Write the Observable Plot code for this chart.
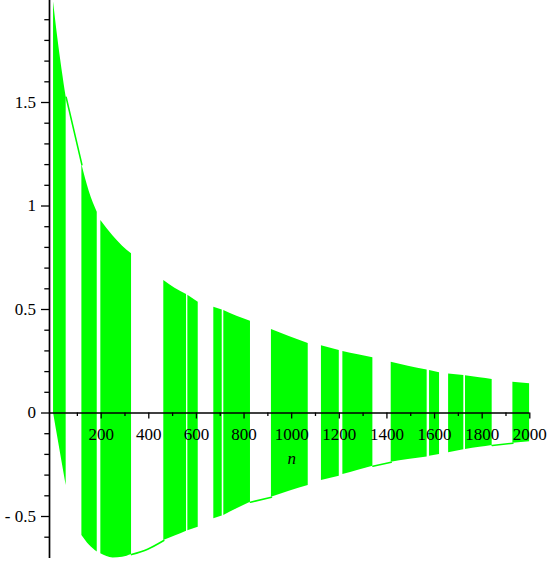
<!DOCTYPE html>
<html>
<head>
<meta charset="utf-8">
<script src="https://cdn.jsdelivr.net/npm/d3@7"></script>
<script src="https://cdn.jsdelivr.net/npm/@observablehq/plot@0.6"></script>
<style>
  html, body { margin: 0; padding: 0; background: #ffffff; }
  #chart { position: absolute; left: 0; top: 0; }
  #chart svg text { font-family: "Liberation Serif", "DejaVu Serif", serif !important; }
</style>
</head>
<body>
<div id="chart"></div>
<script>
// Envelope samples (n, upper value, lower value)
const envN     = [0, 18, 53, 119, 150, 183.5, 198.6, 250, 290, 327.5, 395, 463, 510, 558.5, 564, 607.6, 673, 708.4, 715, 770, 827, 915, 990, 1069.5, 1125, 1200, 1215, 1280, 1341, 1418, 1490, 1569, 1579, 1621, 1659, 1723, 1730, 1790, 1842, 1929, 2000];
const envUpper = [1.985, 1.81, 1.525, 1.20, 1.07, 0.97, 0.93, 0.855, 0.806, 0.769, 0.70, 0.64, 0.603, 0.572, 0.569, 0.535, 0.511, 0.498, 0.495, 0.467, 0.443, 0.403, 0.369, 0.336, 0.325, 0.302, 0.297, 0.281, 0.267, 0.245, 0.226, 0.208, 0.205, 0.195, 0.189, 0.181, 0.180, 0.170, 0.162, 0.148, 0.141];
const envLower = [0, -0.12, -0.35, -0.592, -0.638, -0.672, -0.680, -0.70, -0.697, -0.684, -0.658, -0.616, -0.594, -0.571, -0.569, -0.552, -0.511, -0.498, -0.495, -0.462, -0.431, -0.407, -0.378, -0.350, -0.326, -0.305, -0.297, -0.276, -0.257, -0.238, -0.225, -0.213, -0.209, -0.200, -0.192, -0.178, -0.176, -0.166, -0.157, -0.146, -0.139];

// Filled (green) bands: start and end in n
const bandStart = [0, 119, 198.6, 463, 564, 673, 715, 915, 1125, 1215, 1418, 1579, 1659, 1730, 1929];
const bandEnd   = [53, 183.5, 327.5, 558.5, 607.6, 708.4, 827, 1069.5, 1200, 1341, 1569, 1621, 1723, 1842, 2000];

// Gaps where only the envelope curve is drawn
const upperLineStart = [53];
const upperLineEnd   = [119];
const lowerLineStart = [327.5, 827, 1341, 1842];
const lowerLineEnd   = [463, 915, 1418, 1929];

// Axis ticks and labels
const xMajorTicks = [200, 400, 600, 800, 1000, 1200, 1400, 1600, 1800, 2000];
const xMinorTicks = [100, 300, 500, 700, 900, 1100, 1300, 1500, 1700, 1900];
const xTickLabels = ["200", "400", "600", "800", "1000", "1200", "1400", "1600", "1800", "2000"];
const yMajorTicks = [-0.5, 0, 0.5, 1, 1.5];
const yTickLabels = ["- 0.5", "0", "0.5", "1", "1.5"];
const yMinorTicks = [-0.6, -0.4, -0.3, -0.2, -0.1, 0.1, 0.2, 0.3, 0.4, 0.6, 0.7, 0.8, 0.9, 1.1, 1.2, 1.3, 1.4, 1.6, 1.7, 1.8, 1.9];
const xAxisLabel = "n";
const xAxisLabelAt = 1000;

const xDomain = [-17, 2000];
const yDomain = [-0.7029, 1.9928];
const GREEN = "#00ff00";

const env = envN.map((n, i) => ({n, upper: envUpper[i], lower: envLower[i]}));
const bandRows = bandStart.flatMap((s, b) =>
  env.filter(d => d.n >= s && d.n <= bandEnd[b]).map(d => ({...d, band: b})));
const upperRows = upperLineStart.flatMap((s, b) =>
  env.filter(d => d.n >= s && d.n <= upperLineEnd[b]).map(d => ({...d, seg: b})));
const lowerRows = lowerLineStart.flatMap((s, b) =>
  env.filter(d => d.n >= s && d.n <= lowerLineEnd[b]).map(d => ({...d, seg: b})));

const font = "Liberation Serif";

const chart = Plot.plot({
  width: 550,
  height: 563,
  marginLeft: 49,
  marginRight: 20.7,
  marginTop: 0,
  marginBottom: 5,
  x: {domain: xDomain, axis: null},
  y: {domain: yDomain, axis: null},
  style: {fontFamily: font, fontSize: "17px", color: "black", background: "white", overflow: "visible"},
  marks: [
    Plot.areaY(bandRows, {x: "n", y1: "lower", y2: "upper", z: "band", fill: GREEN, curve: "monotone-x", clip: true}),
    Plot.line(upperRows, {x: "n", y: "upper", z: "seg", stroke: GREEN, strokeWidth: 1.6, curve: "monotone-x"}),
    Plot.line(lowerRows, {x: "n", y: "lower", z: "seg", stroke: GREEN, strokeWidth: 1.6, curve: "monotone-x"}),
    // axes
    Plot.ruleY([0], {stroke: "black", strokeWidth: 1.5}),
    Plot.ruleX([xDomain[0]], {stroke: "black", strokeWidth: 1.7}),
    Plot.ruleX(xMajorTicks, {x: d => d, y1: 0, y2: 0, insetTop: 0, insetBottom: -6, stroke: "black", strokeWidth: 1.3}),
    Plot.ruleX(xMinorTicks, {x: d => d, y1: 0, y2: 0, insetTop: 0, insetBottom: -3.5, stroke: "black", strokeWidth: 1.3}),
    Plot.ruleY(yMajorTicks, {y: d => d, x1: xDomain[0], x2: xDomain[0], insetLeft: -8, insetRight: 0, stroke: "black", strokeWidth: 1.3}),
    Plot.ruleY(yMinorTicks, {y: d => d, x1: xDomain[0], x2: xDomain[0], insetLeft: -4.7, insetRight: 0, stroke: "black", strokeWidth: 1.3}),
    Plot.text(xMajorTicks, {x: d => d, y: () => 0, text: (d, i) => xTickLabels[i], dy: 21.5, fontSize: 17, fontFamily: font, fill: "black"}),
    Plot.text(yMajorTicks, {x: () => xDomain[0], y: d => d, text: (d, i) => yTickLabels[i], dx: -13.5, textAnchor: "end", fontSize: 17, fontFamily: font, fill: "black"}),
    Plot.text([xAxisLabel], {x: () => xAxisLabelAt, y: () => 0, text: d => d, dy: 46, fontSize: 17, fontFamily: font, fontStyle: "italic", fill: "black"})
  ]
});
document.getElementById("chart").appendChild(chart);
</script>
</body>
</html>
